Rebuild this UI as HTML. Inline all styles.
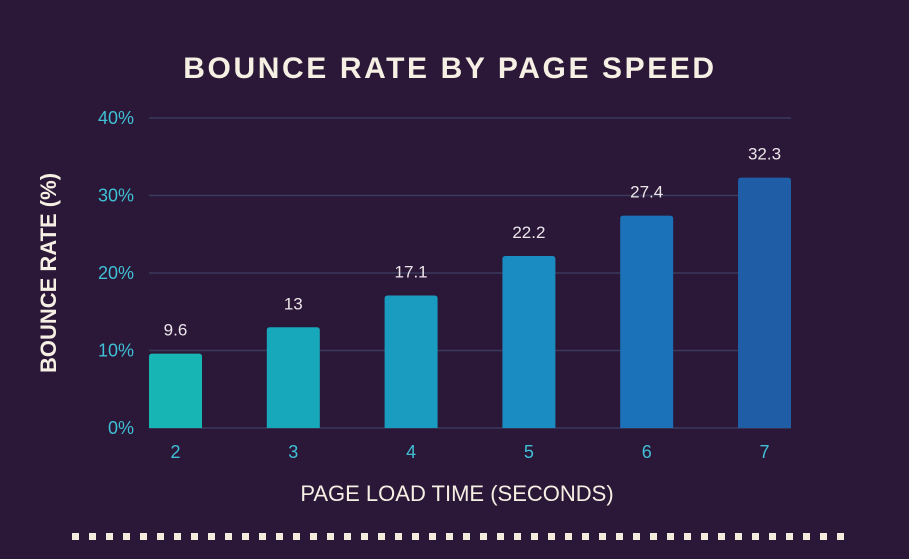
<!DOCTYPE html>
<html><head><meta charset="utf-8"><style>
body{margin:0;background:#2b1737;}
svg{display:block;font-family:"Liberation Sans",sans-serif;}
</style></head><body>
<svg width="909" height="559" viewBox="0 0 909 559">
<rect width="909" height="559" fill="#2b1737"/>
<text x="450" y="78" text-anchor="middle" font-size="30" font-weight="bold" fill="#f6efe3" letter-spacing="2.6">BOUNCE RATE BY PAGE SPEED</text>
<g id="grid"></g><g id="bars"></g><g id="xt"></g>
<text x="457" y="501" text-anchor="middle" font-size="22" font-weight="500" fill="#f6efe3">PAGE LOAD TIME (SECONDS)</text>
<text transform="translate(56,273) rotate(-90)" text-anchor="middle" font-size="22" font-weight="bold" fill="#f6efe3">BOUNCE RATE (%)</text>
<g id="dots"></g>
</svg>
<script>
const categories=["2","3","4","5","6","7"];
const values=[9.6,13,17.1,22.2,27.4,32.3];
const valueLabels=["9.6","13","17.1","22.2","27.4","32.3"];
const yTicks=[0,10,20,30,40];
const yTickLabels=["0%","10%","20%","30%","40%"];
const colors=["#17b5b3","#18a8bb","#1a9bc0","#1b8cc2","#1b72b8","#1f5ea6"];
const NS="http://www.w3.org/2000/svg";
const x0=149,x1=791,y0=428,y1=118,bw=53;
const y=v=>y0-(v/40)*(y0-y1);
const xc=i=>x0+bw/2+i*((x1-x0-bw)/(categories.length-1));
function mk(t,a,p){const e=document.createElementNS(NS,t);for(const k in a)e.setAttribute(k,a[k]);p.appendChild(e);return e;}
const g=document.getElementById('grid');
yTicks.forEach((t,i)=>{
 const l=mk('line',{x1:x0,x2:x1,y1:y(t),y2:y(t),stroke:'#3b3a5c','stroke-width':1.5},g);
 
 
 const tx=mk('text',{x:134,y:y(t)+6,'text-anchor':'end','font-size':18,fill:'#3fc0d6'},g);
 tx.textContent=yTickLabels[i];
 
 
});
const b=document.getElementById('bars'),xt=document.getElementById('xt');
values.forEach((v,i)=>{
 const r=mk('path',{d:`M${xc(i)-bw/2},${y0}V${y(v)+3}q0,-3 3,-3h${bw-6}q3,0 3,3V${y0}Z`,fill:colors[i]},b);
 
 
 const t=mk('text',{x:xc(i),y:y(v)-18,'text-anchor':'middle','font-size':17,fill:'#ebe6ea'},b);
 t.textContent=valueLabels[i];
 
 
 const c=mk('text',{x:xc(i),y:458,'text-anchor':'middle','font-size':18,fill:'#3fc0d6'},xt);
 c.textContent=categories[i];
 
 
});
const d=document.getElementById('dots');
for(let i=0;i<46;i++){
 const s=mk('rect',{x:72+i*17,y:533,width:7,height:7,fill:'#f3ecdc'},d);
 
 
}
</script>
</body></html>
